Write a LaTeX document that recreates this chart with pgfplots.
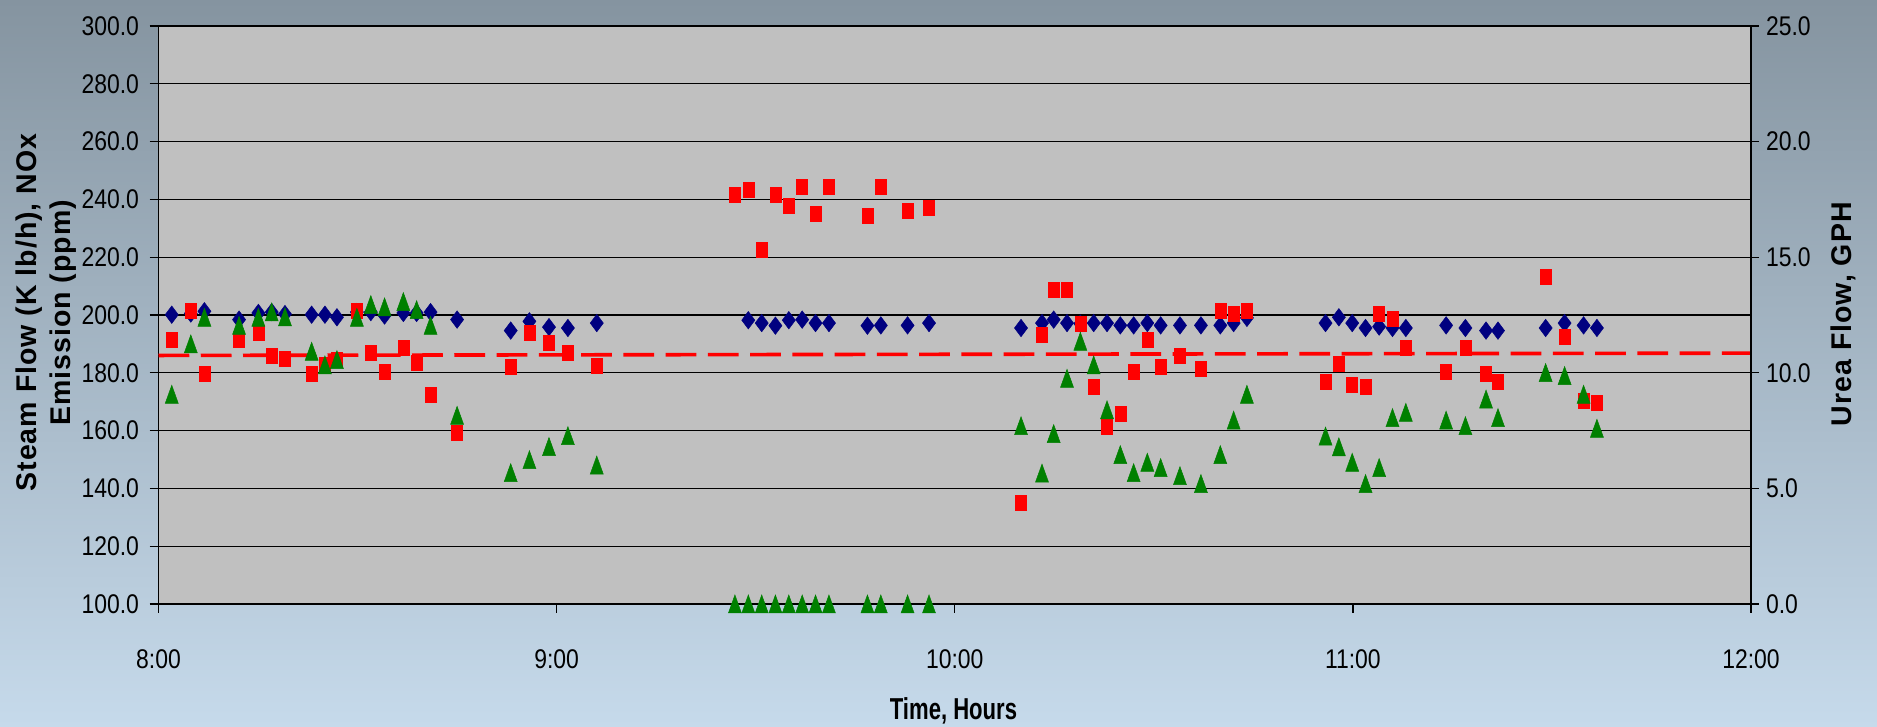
\documentclass[border=0pt]{standalone}
\usepackage{fontspec}
\setmainfont{Liberation Sans}
\newfontfamily\tickfont[FakeStretch=0.85]{Liberation Sans}
\newfontfamily\vtitlefont[LetterSpace=3.5]{Liberation Sans}
\newfontfamily\xtitlefont[FakeStretch=0.73]{Liberation Sans}
\usepackage{pgfplots}
\pgfplotsset{compat=1.18}
\usepackage{pgfplotstable}

\definecolor{plotgray}{RGB}{192,192,192}
\definecolor{bgtop}{RGB}{133,148,160}
\definecolor{bgbot}{RGB}{198,218,235}
\definecolor{navyd}{RGB}{0,0,128}
\definecolor{greenu}{RGB}{0,128,0}

% t = minutes after 8:00
\pgfplotstableread{
t steam nox urea
2.00 200.1 191.4 9.07
4.87 200.5 201.5 11.25
6.92 201.3 179.6 12.40
12.14 198.4 191.4 12.05
15.05 200.7 194.0 12.40
17.06 201.0 186.0 12.63
19.06 200.3 185.0 12.42
23.08 200.1 179.6 10.93
25.08 200.1 182.9 10.34
26.89 199.2 184.6 10.57
29.90 201.0 201.5 12.40
32.00 201.0 186.9 12.95
34.07 199.8 180.4 12.85
36.90 200.7 188.8 13.08
38.90 200.7 183.3 12.73
41.00 201.0 172.3 12.05
45.00 198.4 159.4 8.16
53.08 194.6 182.2 5.68
55.90 197.8 194.0 6.24
58.85 195.8 190.5 6.81
61.70 195.5 186.9 7.28
66.05 197.2 182.3 6.01
86.87 nan 241.5 0
88.89 198.2 243.3 0
90.91 197.2 222.5 0
92.97 196.3 241.5 0
94.99 198.2 237.9 0
97.01 198.4 244.2 0
99.02 197.2 235.2 0
101.04 197.2 244.2 0
106.84 196.3 234.3 0
108.86 196.4 244.2 0
112.89 196.4 236.1 0
116.12 197.2 237.0 0
129.99 195.5 134.9 7.71
133.15 197.2 193.2 5.66
134.91 198.4 208.7 7.37
136.92 197.2 208.7 9.76
138.93 197.0 196.9 11.36
140.94 197.2 175.0 10.34
142.95 197.2 161.3 8.40
144.95 196.4 165.7 6.46
146.96 196.4 180.4 5.68
149.02 197.2 191.4 6.13
151.03 196.4 182.2 5.90
153.94 196.4 185.9 5.55
157.10 196.4 181.3 5.21
160.02 196.4 201.5 6.46
162.03 197.2 200.5 7.95
164.03 199.0 201.5 9.07
175.88 197.2 176.8 7.26
177.89 199.2 183.2 6.80
179.90 197.2 175.9 6.13
181.91 195.5 175.0 5.21
183.96 196.0 200.5 5.90
185.97 195.5 198.7 8.06
187.98 195.5 188.7 8.29
194.05 196.4 180.4 7.95
196.96 195.5 188.7 7.71
200.07 194.6 179.5 8.86
201.87 194.6 176.8 8.06
209.05 195.5 213.3 10.01
211.91 197.2 192.3 9.88
214.77 196.4 170.3 9.07
216.78 195.5 169.5 7.60
}\data

\begin{document}
\begin{tikzpicture}
\fill[top color=bgtop, bottom color=bgbot] (0,0) rectangle (750.8pt,290.8pt);
\begin{axis}[
  at={(63.4pt,49.2pt)}, anchor=south west,
  width=637pt, height=231.2pt, scale only axis,
  xmin=0, xmax=240, ymin=100, ymax=300,
  axis x line*=bottom, axis y line*=left,
  xtick={0,60,120,180,240}, xticklabels={8:00,9:00,10:00,11:00,12:00},
  ytick={100,120,...,300},
  ymajorgrids, major grid style={black, line width=0.45pt},
  tick align=outside, major tick length=3.6pt,
  tick style={black, line width=0.5pt},
  axis line style={black, line width=0.6pt},
  axis background/.style={fill=plotgray},
  yticklabel style={font=\tickfont\fontsize{10.8}{12}\selectfont, anchor=east, inner sep=0pt, xshift=-4pt,
    /pgf/number format/fixed, /pgf/number format/fixed zerofill, /pgf/number format/precision=1,
    /pgf/number format/assume math mode=true},
  xticklabel style={font=\tickfont\fontsize{10.8}{12}\selectfont, anchor=center, inner sep=0pt, yshift=-18.4pt},
  clip=false,
]
\addplot[only marks, mark=diamond*, mark size=3.5pt, mark options={fill=navyd, draw=navyd, line width=0.2pt}] table[x=t, y=steam] {\data};
\addplot[only marks, mark=square*, mark size=3pt, mark options={xscale=0.73, fill=red, draw=red, line width=0.2pt}] table[x=t, y=nox] {\data};
\addplot[red, line width=1.45pt, dash pattern=on 12.3pt off 4.6pt, no marks] coordinates {(0,186.0) (240,186.8)};
\end{axis}
\begin{axis}[
  at={(63.4pt,49.2pt)}, anchor=south west,
  width=637pt, height=231.2pt, scale only axis,
  xmin=0, xmax=240, ymin=0, ymax=25,
  axis y line*=right, axis x line=none,
  ytick={0,5,...,25},
  tick align=center, major tick length=6pt,
  tick style={black, line width=0.5pt},
  axis line style={black, line width=0.6pt},
  yticklabel style={font=\tickfont\fontsize{10.8}{12}\selectfont, anchor=west, inner sep=0pt, xshift=2.8pt,
    /pgf/number format/fixed, /pgf/number format/fixed zerofill, /pgf/number format/precision=1,
    /pgf/number format/assume math mode=true},
  clip=false,
]
\addplot[only marks, mark=triangle*, mark size=4.8pt, mark options={xscale=0.625, yshift=-1.2pt, fill=greenu, draw=greenu, line width=0.2pt}] table[x=t, y=urea] {\data};
\end{axis}
\node[rotate=90, anchor=base, font=\vtitlefont\bfseries\fontsize{11.4}{13}\selectfont] at (14.7pt,165.8pt) {Steam Flow (K lb/h), NOx};
\node[rotate=90, anchor=base, font=\vtitlefont\bfseries\fontsize{11.4}{13}\selectfont] at (28.3pt,165.6pt) {Emission (ppm)};
\node[rotate=90, anchor=base, font=\vtitlefont\bfseries\fontsize{11.4}{13}\selectfont] at (740.7pt,165.1pt) {Urea Flow, GPH};
\node[anchor=base, font=\xtitlefont\bfseries\fontsize{12.1}{14}\selectfont] at (381.4pt,2.8pt) {Time, Hours};
\pgfresetboundingbox
\useasboundingbox (0,0) rectangle (750.8pt,290.8pt);
\end{tikzpicture}
\end{document}
